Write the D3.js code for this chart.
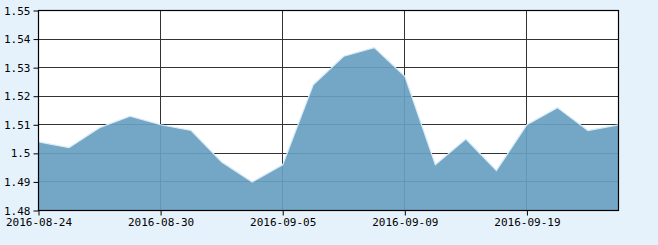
<!DOCTYPE html>
<html lang="en">
  <head>
    <meta charset="UTF-8" />
    <title>Area Chart</title>
    <style>
      html, body { margin: 0; padding: 0; background: #e6f2fb; }
      .chart { width: 658px; height: 245px; }
      .tick text { font-family: "DejaVu Sans Mono", monospace; font-size: 11px; fill: #000; }
    </style>
  </head>
  <body>
    <div class="chart"></div>
    <script src="https://d3js.org/d3.v7.min.js"></script>
    <script>
      var dates = ["2016-08-24", "2016-08-25", "2016-08-26", "2016-08-29", "2016-08-30",
                   "2016-08-31", "2016-09-01", "2016-09-02", "2016-09-05", "2016-09-06",
                   "2016-09-07", "2016-09-08", "2016-09-09", "2016-09-12", "2016-09-13",
                   "2016-09-14", "2016-09-19", "2016-09-20", "2016-09-21", "2016-09-22"];
      var values = [1.504, 1.502, 1.509, 1.513, 1.510, 1.508, 1.497, 1.490, 1.496, 1.524,
                    1.534, 1.537, 1.527, 1.496, 1.505, 1.494, 1.510, 1.516, 1.508, 1.510];
      var xLabels = ["2016-08-24", "2016-08-30", "2016-09-05", "2016-09-09", "2016-09-19"];
      var yTicks = [1.48, 1.49, 1.5, 1.51, 1.52, 1.53, 1.54, 1.55];

      var w = 658, h = 245;
      var padL = 38.5, padR = 618.5, padT = 10.5, padB = 210.5;

      var svg = d3.select(".chart").append("svg")
        .attr("width", w)
        .attr("height", h);

      svg.append("rect")
        .attr("x", padL).attr("y", padT)
        .attr("width", padR - padL).attr("height", padB - padT)
        .attr("fill", "#fff");

      var x = d3.scalePoint().domain(dates).range([padL, padR]);
      var y = d3.scaleLinear().domain([1.48, 1.55]).range([padB, padT]);

      // grid
      svg.append("g").selectAll("line")
        .data(yTicks.slice(1, -1))
        .enter().append("line")
        .attr("x1", padL).attr("x2", padR)
        .attr("y1", function(d) { return Math.round(y(d) - 0.5) + 0.5; })
        .attr("y2", function(d) { return Math.round(y(d) - 0.5) + 0.5; })
        .attr("stroke", "#333").attr("stroke-width", 1);
      svg.append("g").selectAll("line")
        .data(xLabels.slice(1))
        .enter().append("line")
        .attr("x1", function(d) { return Math.round(x(d) - 0.5) + 0.5; })
        .attr("x2", function(d) { return Math.round(x(d) - 0.5) + 0.5; })
        .attr("y1", padT).attr("y2", padB)
        .attr("stroke", "#333").attr("stroke-width", 1);

      var area = d3.area()
        .x(function(d, i) { return x(dates[i]); })
        .y0(padB)
        .y1(function(d) { return y(d); });
      var line = d3.line()
        .x(function(d, i) { return x(dates[i]); })
        .y(function(d) { return y(d); });

      svg.append("path")
        .datum(values)
        .attr("d", area)
        .attr("fill", "rgb(104,160,193)")
        .attr("fill-opacity", 0.92);
      svg.append("path")
        .datum(values)
        .attr("d", line)
        .attr("fill", "none")
        .attr("stroke", "#d6eaf7")
        .attr("stroke-width", 1.2);

      // frame
      svg.append("rect")
        .attr("x", padL).attr("y", padT)
        .attr("width", padR - padL).attr("height", padB - padT)
        .attr("fill", "none").attr("stroke", "#000").attr("stroke-width", 1.2);

      var yAxis = d3.axisLeft(y).tickValues(yTicks).tickSize(5).tickPadding(3)
        .tickFormat(function(d) { return String(+d.toFixed(2)); });
      var gy = svg.append("g").attr("transform", "translate(" + padL + ",0)").call(yAxis);
      gy.select(".domain").remove();
      gy.selectAll(".tick line").attr("stroke", "#000");

      var xAxis = d3.axisBottom(x).tickValues(xLabels).tickSize(5).tickPadding(3);
      var gx = svg.append("g").attr("transform", "translate(0," + padB + ")").call(xAxis);
      gx.select(".domain").remove();
      gx.selectAll(".tick line").attr("stroke", "#000");
    </script>
  </body>
</html>
